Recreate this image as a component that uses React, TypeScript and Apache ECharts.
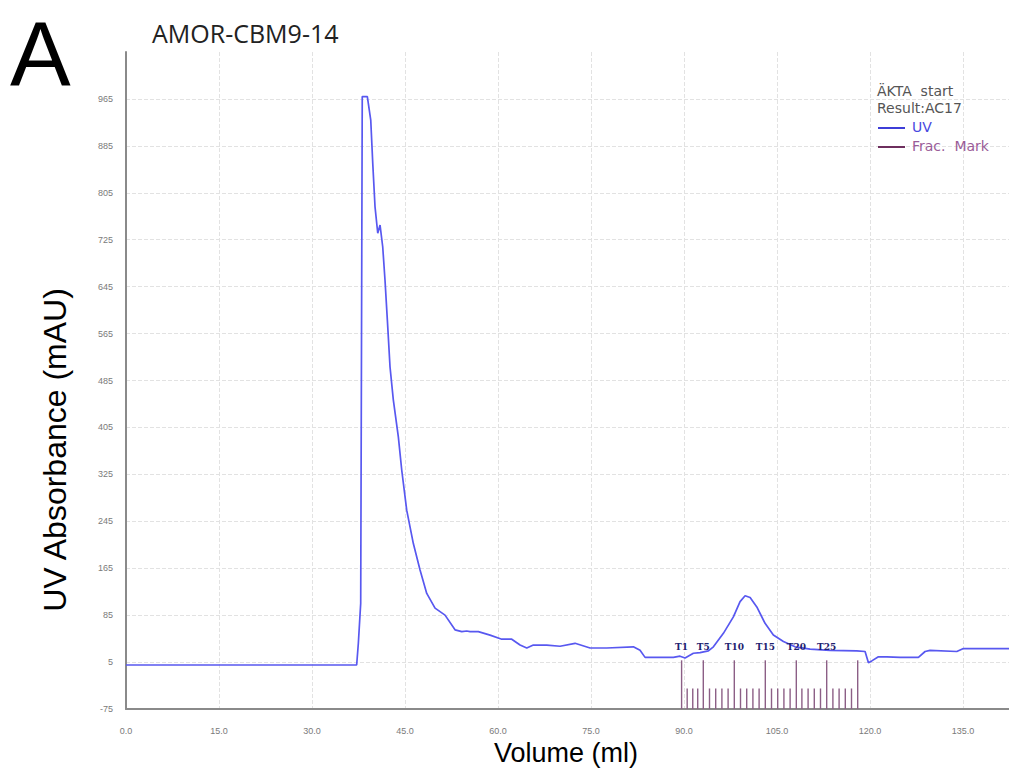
import React, { useEffect, useRef } from "react";
import * as echarts from "echarts";

// UV trace (Volume in ml, absorbance in mAU)
const uvVolume = [
  0, 37.2, 37.47, 37.85, 38.1, 38.92, 39.47, 39.79, 40.16, 40.6, 40.97, 41.4, 41.77, 42.15, 42.58,
  43.11, 43.92, 44.47, 45.27, 46.34, 47.42, 48.5, 49.84, 51.45, 53.06, 54.15, 54.95, 55.48, 56.82,
  58.71, 60.6, 62.21, 63.55, 64.63, 65.69, 67.85, 70.0, 72.42, 74.84, 77.53, 81.82, 82.9, 83.71,
  88.27, 89.35, 90.16, 91.5, 92.58, 93.92, 94.73, 96.34, 97.95, 99.03, 99.84, 100.65, 101.73,
  103.06, 104.4, 106.02, 107.9, 110.32, 113.55, 117.85, 119.19, 119.73, 120.27, 121.34, 122.69,
  124.84, 127.79, 128.87, 129.68, 133.98, 135.05, 137.74, 140.97, 142.4,
];
const uvAbsorbance = [
  0, 0, 37, 105, 969, 969, 929, 856, 781, 736, 750, 713, 656, 588, 508,
  452, 389, 332, 264, 207, 162, 122, 97, 85, 60, 57, 58, 57, 57,
  51, 44, 44, 34, 29, 34, 34, 32, 37, 29, 29, 31, 25, 13,
  13, 15, 12, 20, 21, 24, 31, 54, 82, 108, 118, 115, 99,
  71, 51, 40, 31, 27, 25, 24, 23, 4, 7, 14, 14,
  13, 13, 23, 25, 23, 28, 28, 28, 28,
];

// Fraction marks
const fracVolumes = [
  89.6, 90.5, 91.4, 92.2, 93.1, 94.1, 95.1, 96.1, 97.1, 98.1, 99.1, 100.1, 101.1, 102.1, 103.1,
  104.1, 105.1, 106.1, 107.1, 108.1, 109.0, 110.0, 111.0, 112.0, 113.0, 114.0, 115.0, 116.0, 117.0, 118.0,
];
const fracLabels = [
  "T1", "", "", "", "T5", "", "", "", "", "T10", "", "", "", "", "T15",
  "", "", "", "", "T20", "", "", "", "", "T25", "", "", "", "", "",
];
const fracTallTop = 8;
const fracShortTop = -40;

// Axes
const xMin = 0;
const xMax = 142.4;
const xStep = 15;
const yMin = -75;
const yMax = 1045;
const yStep = 80;

const legendLines = ["ÄKTA  start", "Result:AC17"];
const seriesNames = ["UV", "Frac.  Mark"];

const UV_COLOR = "#5858f0";
const FRAC_COLOR = "#8c5f86";

export default function App() {
  const ref = useRef<HTMLDivElement>(null);
  useEffect(() => {
    if (!ref.current) return;
    const chart = echarts.init(ref.current, undefined, { renderer: "svg" });
    const yLineCount = Math.round((yMax - yMin) / yStep) + 1;
    const yGridColors = Array.from({ length: yLineCount }, (_, i) =>
      i === yLineCount - 1 ? "rgba(0,0,0,0)" : "#e2e2e2"
    );
    const xLineCount = Math.floor((xMax - xMin) / xStep) + 2;
    const xGridColors = Array.from({ length: xLineCount }, (_, i) =>
      i === xLineCount - 1 ? "rgba(0,0,0,0)" : "#e2e2e2"
    );
    const uvData = uvVolume.map((v, i) => [v, uvAbsorbance[i]]);
    const fracData = fracVolumes.map((v, i) => [
      v,
      fracLabels[i] !== "" || i === fracVolumes.length - 1 ? fracTallTop : fracShortTop,
    ]);
    chart.setOption({
      animation: false,
      backgroundColor: "#ffffff",
      grid: { left: 126, right: 0, top: 52, bottom: 60 },
      xAxis: {
        type: "value",
        min: xMin,
        max: xMax,
        interval: xStep,
        axisLine: { show: true, onZero: false, lineStyle: { color: "#8a8a8a", width: 2 } },
        axisTick: { show: false },
        axisLabel: {
          showMaxLabel: false,
          margin: 17,
          color: "#7a7a7a",
          fontSize: 9,
          fontFamily: "Liberation Sans",
          formatter: (v: number) => v.toFixed(1),
        },
        splitLine: { show: true, lineStyle: { color: xGridColors, type: "dashed", width: 1 } },
      },
      yAxis: {
        type: "value",
        min: yMin,
        max: yMax,
        interval: yStep,
        axisLine: { show: true, lineStyle: { color: "#8a8a8a", width: 2 } },
        axisTick: { show: false },
        axisLabel: {
          showMaxLabel: false,
          margin: 13,
          color: "#7a7a7a",
          fontSize: 9,
          fontFamily: "Liberation Sans",
        },
        splitLine: { show: true, lineStyle: { color: yGridColors, type: "dashed", width: 1 } },
      },
      series: [
        {
          name: "UV",
          type: "line",
          data: uvData,
          showSymbol: false,
          smooth: false,
          lineStyle: { color: UV_COLOR, width: 1.7 },
          z: 2,
        },
        {
          name: "Frac. Mark",
          type: "custom",
          data: fracData,
          z: 3,
          renderItem: (params: any, api: any) => {
            const x = api.value(0);
            const top = api.value(1);
            const p0 = api.coord([x, yMin]);
            const p1 = api.coord([x, top]);
            const label = fracLabels[params.dataIndex];
            const children: any[] = [
              {
                type: "line",
                shape: { x1: p0[0], y1: p0[1], x2: p1[0], y2: p1[1] },
                style: { stroke: FRAC_COLOR, lineWidth: 1.4 },
              },
            ];
            if (label) {
              children.push({
                type: "text",
                x: p1[0],
                y: p1[1] - 13,
                style: {
                  text: label,
                  fill: "#1e2270",
                  font: "bold 9px 'DejaVu Serif'",
                  align: "center",
                  verticalAlign: "middle",
                },
              });
            }
            return { type: "group", children };
          },
        },
      ],
      graphic: [
        {
          type: "text",
          left: 10,
          top: 8,
          z: 100,
          style: { text: "A", fill: "#000", font: "91px 'Liberation Sans'", lineHeight: 70 },
        },
        {
          type: "text",
          x: 152,
          y: 33,
          z: 100,
          style: {
            text: "AMOR-CBM9-14",
            fill: "#222",
            font: "25px 'Open Sans'",
            verticalAlign: "middle",
          },
        },
        {
          type: "text",
          x: 55,
          y: 450,
          z: 100,
          rotation: Math.PI / 2,
          style: {
            text: "UV Absorbance (mAU)",
            fill: "#000",
            font: "32px 'Liberation Sans'",
            align: "center",
            verticalAlign: "middle",
          },
        },
        {
          type: "text",
          x: 566,
          y: 753,
          z: 100,
          style: {
            text: "Volume (ml)",
            fill: "#000",
            font: "27px 'Liberation Sans'",
            align: "center",
            verticalAlign: "middle",
          },
        },
        {
          type: "text",
          x: 877,
          y: 91,
          z: 100,
          style: { text: legendLines[0], fill: "#555", font: "14px 'DejaVu Sans'", verticalAlign: "middle" },
        },
        {
          type: "text",
          x: 877,
          y: 108,
          z: 100,
          style: { text: legendLines[1], fill: "#555", font: "14px 'DejaVu Sans'", verticalAlign: "middle" },
        },
        {
          type: "rect",
          z: 100,
          shape: { x: 878, y: 127, width: 27, height: 2 },
          style: { fill: "#3e3ed8" },
        },
        {
          type: "text",
          x: 912,
          y: 127,
          z: 100,
          style: { text: seriesNames[0], fill: "#4848e0", font: "14px 'DejaVu Sans'", verticalAlign: "middle" },
        },
        {
          type: "rect",
          z: 100,
          shape: { x: 878, y: 146, width: 27, height: 2 },
          style: { fill: "#6e2f5e" },
        },
        {
          type: "text",
          x: 912,
          y: 146,
          z: 100,
          style: { text: seriesNames[1], fill: "#9a5c98", font: "14px 'DejaVu Sans'", verticalAlign: "middle" },
        },
      ],
    });
    return () => chart.dispose();
  }, []);
  return (
    <div
      ref={ref}
      style={{ position: "fixed", left: 0, top: 0, width: 1009, height: 769, background: "#fff" }}
    />
  );
}
